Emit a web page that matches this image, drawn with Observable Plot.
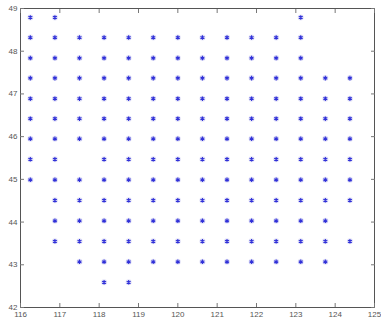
<!DOCTYPE html>
<html><head><meta charset="utf-8">
<script src="https://cdn.jsdelivr.net/npm/d3@7"></script>
<script src="https://cdn.jsdelivr.net/npm/@observablehq/plot@0.6"></script>
<style>body{margin:0;background:#fff}#chart svg{display:block}</style>
</head><body><div id="chart"></div>
<script>
const lons = [116.25, 116.875, 117.5, 118.125, 118.75, 119.375, 120, 120.625, 121.25, 121.875, 122.5, 123.125, 123.75, 124.375];
const lats = [48.79, 48.32, 47.84, 47.37, 46.89, 46.42, 45.95, 45.47, 44.99, 44.51, 44.03, 43.55, 43.07, 42.59];
const rowCols = [
  [0, 1, 11],
  [0, 1, 2, 3, 4, 5, 6, 7, 8, 9, 10, 11],
  [0, 1, 2, 3, 4, 5, 6, 7, 8, 9, 10, 11],
  [0, 1, 2, 3, 4, 5, 6, 7, 8, 9, 10, 11, 12, 13],
  [0, 1, 2, 3, 4, 5, 6, 7, 8, 9, 10, 11, 12, 13],
  [0, 1, 2, 3, 4, 5, 6, 7, 8, 9, 10, 11, 12, 13],
  [0, 1, 2, 3, 4, 5, 6, 7, 8, 9, 10, 11, 12, 13],
  [0, 1, 3, 4, 5, 6, 7, 8, 9, 10, 11, 12, 13],
  [0, 1, 2, 3, 4, 5, 6, 7, 8, 9, 10, 11, 12, 13],
  [1, 2, 3, 4, 5, 6, 7, 8, 9, 10, 11, 12, 13],
  [1, 2, 3, 4, 5, 6, 7, 8, 9, 10, 11, 12],
  [1, 2, 3, 4, 5, 6, 7, 8, 9, 10, 11, 12, 13],
  [2, 3, 4, 5, 6, 7, 8, 9, 10, 11, 12],
  [3, 4]
];
const xTicks = [116, 117, 118, 119, 120, 121, 122, 123, 124, 125];
const yTicks = [42, 43, 44, 45, 46, 47, 48, 49];
const titleText = ["-"];

const points = [];
rowCols.forEach((cols, r) => cols.forEach(c => points.push({lon: lons[c], lat: lats[r]})));

const font = "8px 'Liberation Sans', Arial, sans-serif";
const chart = Plot.plot({
  width: 381, height: 320,
  marginLeft: 20, marginRight: 7, marginTop: 8, marginBottom: 13,
  style: {font, color: "#444", background: "#fff"},
  x: {domain: [116, 125]},
  y: {domain: [42, 49]},
  marks: [
    Plot.frame({stroke: "#555", strokeWidth: 1}),
    Plot.axisX(xTicks, {anchor: "bottom", tickSize: -4, tickPadding: 8, label: null, stroke: "#777", fill: "#555", fontSize: 8}),
    Plot.axisX(xTicks, {anchor: "top", tickSize: -4, text: null, label: null, stroke: "#777"}),
    Plot.axisY(yTicks, {anchor: "left", tickSize: -4, tickPadding: 7, label: null, stroke: "#777", fill: "#555", fontSize: 8}),
    Plot.axisY(yTicks, {anchor: "right", tickSize: -4, text: null, label: null, stroke: "#777"}),
    Plot.dot(points, {x: "lon", y: "lat", r: 3, fill: "#c8c8f0", fillOpacity: 0.5, stroke: "none"}),
    Plot.dot(points, {x: "lon", y: "lat", symbol: "asterisk", r: 2.1, stroke: "#3030d8", strokeWidth: 1.1}),
    Plot.text(titleText, {frameAnchor: "top", dy: -4, dx: -5, fontSize: 8, fill: "#555"})
  ]
});
document.getElementById("chart").append(chart);
</script>
</body></html>
